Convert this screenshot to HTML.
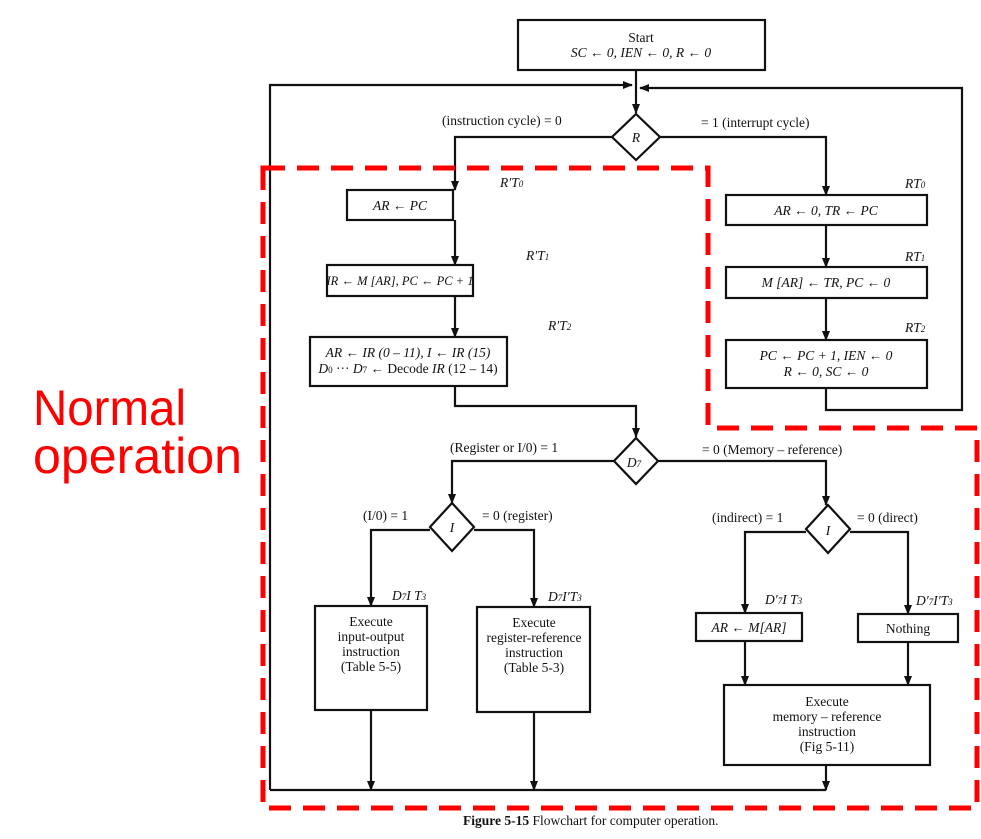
<!DOCTYPE html>
<html><head><meta charset="utf-8"><style>
html,body{margin:0;padding:0;background:#fff;}
svg{display:block;}
.t{font-family:"Liberation Serif",serif;font-size:13.5px;fill:#111;}
.i{font-style:italic;}
</style></head><body>
<svg width="981" height="839" viewBox="0 0 981 839" xmlns="http://www.w3.org/2000/svg">
<defs>
<marker id="ah" markerWidth="10" markerHeight="8" refX="9" refY="4" orient="auto" markerUnits="userSpaceOnUse" viewBox="0 0 10 8">
<path d="M0,0 L10,4 L0,8 Z" fill="#111"/></marker>
</defs>
<g fill="none" stroke="#111" stroke-width="2.2">
<rect x="518" y="20" width="247" height="50" fill="#fff"/>
<line x1="636" y1="70" x2="636" y2="113" marker-end="url(#ah)"/>
<polyline points="270,790 270,85 632,85" marker-end="url(#ah)"/>
<polyline points="826,388 826,410 962,410 962,88 640,88" marker-end="url(#ah)"/>
<polygon points="636,114 660,137 636,160 612,137" fill="#fff"/>
<polyline points="612,137 455,137 455,190" marker-end="url(#ah)"/>
<polyline points="660,137 826,137 826,195" marker-end="url(#ah)"/>
<rect x="347" y="190" width="106" height="30"/>
<line x1="455" y1="220" x2="455" y2="265" marker-end="url(#ah)"/>
<rect x="327" y="265" width="146" height="31"/>
<line x1="455" y1="296" x2="455" y2="337" marker-end="url(#ah)"/>
<rect x="310" y="337" width="197" height="49"/>
<polyline points="455,386 455,406 636,406 636,437" marker-end="url(#ah)"/>
<rect x="726" y="195" width="201" height="30"/>
<line x1="826" y1="225" x2="826" y2="267" marker-end="url(#ah)"/>
<rect x="726" y="267" width="201" height="31"/>
<line x1="826" y1="298" x2="826" y2="340" marker-end="url(#ah)"/>
<rect x="726" y="340" width="201" height="48"/>
<polygon points="636,438 658,461 636,484 614,461" fill="#fff"/>
<polyline points="614,461 452,461 452,503" marker-end="url(#ah)"/>
<polyline points="658,461 826,461 826,505" marker-end="url(#ah)"/>
<polygon points="452,503 474,527 452,551 430,527" fill="#fff"/>
<polygon points="828,505 850,529 828,553 806,529" fill="#fff"/>
<polyline points="430,530 371,530 371,606" marker-end="url(#ah)"/>
<polyline points="474,530 534,530 534,607" marker-end="url(#ah)"/>
<polyline points="806,532 745,532 745,613" marker-end="url(#ah)"/>
<polyline points="850,532 908,532 908,614" marker-end="url(#ah)"/>
<rect x="315" y="606" width="112" height="104"/>
<rect x="477" y="607" width="113" height="105"/>
<rect x="696" y="613" width="106" height="28"/>
<rect x="858" y="614" width="100" height="28"/>
<line x1="745" y1="641" x2="745" y2="685" marker-end="url(#ah)"/>
<line x1="908" y1="642" x2="908" y2="685" marker-end="url(#ah)"/>
<rect x="724" y="685" width="206" height="80"/>
<line x1="371" y1="710" x2="371" y2="790" marker-end="url(#ah)"/>
<line x1="534" y1="712" x2="534" y2="790" marker-end="url(#ah)"/>
<line x1="826" y1="765" x2="826" y2="790" marker-end="url(#ah)"/>
<line x1="270" y1="790" x2="826" y2="790"/>
</g>
<g class="t" text-anchor="middle">
<text x="641" y="42">Start</text>
<text x="641" y="57" class="i">SC ← 0, IEN ← 0, R ← 0</text>
<text x="636" y="142" class="i">R</text>
<text x="400" y="210" class="i">AR ← PC</text>
<text x="400" y="285" class="i" font-size="12.5">IR ← M [AR], PC ← PC + 1</text>
<text x="408" y="357" class="i">AR ← IR (0 – 11), I ← IR (15)</text>
<text x="408" y="373"><tspan class="i">D</tspan><tspan font-size="9">0</tspan> ··· <tspan class="i">D</tspan><tspan font-size="9">7</tspan> ← Decode <tspan class="i">IR</tspan> (12 – 14)</text>
<text x="826" y="215" class="i">AR ← 0, TR ← PC</text>
<text x="826" y="287" class="i">M [AR] ← TR, PC ← 0</text>
<text x="826" y="360" class="i">PC ← PC + 1, IEN ← 0</text>
<text x="826" y="376" class="i">R ← 0, SC ← 0</text>
<text x="634" y="467" class="i">D<tspan font-size="9">7</tspan></text>
<text x="452" y="532" class="i">I</text>
<text x="828" y="535" class="i">I</text>
<text x="371" y="626">Execute</text>
<text x="371" y="641">input-output</text>
<text x="371" y="656">instruction</text>
<text x="371" y="671">(Table 5-5)</text>
<text x="534" y="627">Execute</text>
<text x="534" y="642">register-reference</text>
<text x="534" y="657">instruction</text>
<text x="534" y="672">(Table 5-3)</text>
<text x="749" y="632" class="i">AR ← M[AR]</text>
<text x="908" y="633">Nothing</text>
<text x="827" y="706">Execute</text>
<text x="827" y="721">memory – reference</text>
<text x="827" y="736">instruction</text>
<text x="827" y="751">(Fig 5-11)</text>
</g>
<g class="t">
<text x="442" y="125">(instruction cycle)  = 0</text>
<text x="701" y="127">= 1  (interrupt cycle)</text>
<text x="500" y="187" class="i">R′T<tspan font-size="9">0</tspan></text>
<text x="526" y="260" class="i">R′T<tspan font-size="9">1</tspan></text>
<text x="548" y="330" class="i">R′T<tspan font-size="9">2</tspan></text>
<text x="905" y="188" class="i">RT<tspan font-size="9">0</tspan></text>
<text x="905" y="261" class="i">RT<tspan font-size="9">1</tspan></text>
<text x="905" y="332" class="i">RT<tspan font-size="9">2</tspan></text>
<text x="450" y="452">(Register or I/0)  = 1</text>
<text x="702" y="454">= 0  (Memory – reference)</text>
<text x="363" y="520">(I/0)  = 1</text>
<text x="482" y="520">= 0  (register)</text>
<text x="712" y="522">(indirect)  = 1</text>
<text x="857" y="522">= 0  (direct)</text>
<text x="392" y="600" class="i">D<tspan font-size="9">7</tspan>I T<tspan font-size="9">3</tspan></text>
<text x="548" y="601" class="i">D<tspan font-size="9">7</tspan>I′T<tspan font-size="9">3</tspan></text>
<text x="765" y="604" class="i">D′<tspan font-size="9">7</tspan>I T<tspan font-size="9">3</tspan></text>
<text x="916" y="605" class="i">D′<tspan font-size="9">7</tspan>I′T<tspan font-size="9">3</tspan></text>
<text x="463" y="825"><tspan font-weight="bold">Figure 5-15</tspan>   Flowchart for computer operation.</text>
</g>
<path d="M263,168 L708,168 L708,428 L977,428 L977,808 L263,808 Z" fill="none" stroke="#f00" stroke-width="5" stroke-dasharray="22,12"/>
<g font-family="'Liberation Sans',sans-serif" fill="#f00" font-size="50">
<text x="33" y="425" textLength="153" lengthAdjust="spacingAndGlyphs">Normal</text>
<text x="33" y="473" textLength="209" lengthAdjust="spacingAndGlyphs">operation</text>
</g>
</svg>
</body></html>
